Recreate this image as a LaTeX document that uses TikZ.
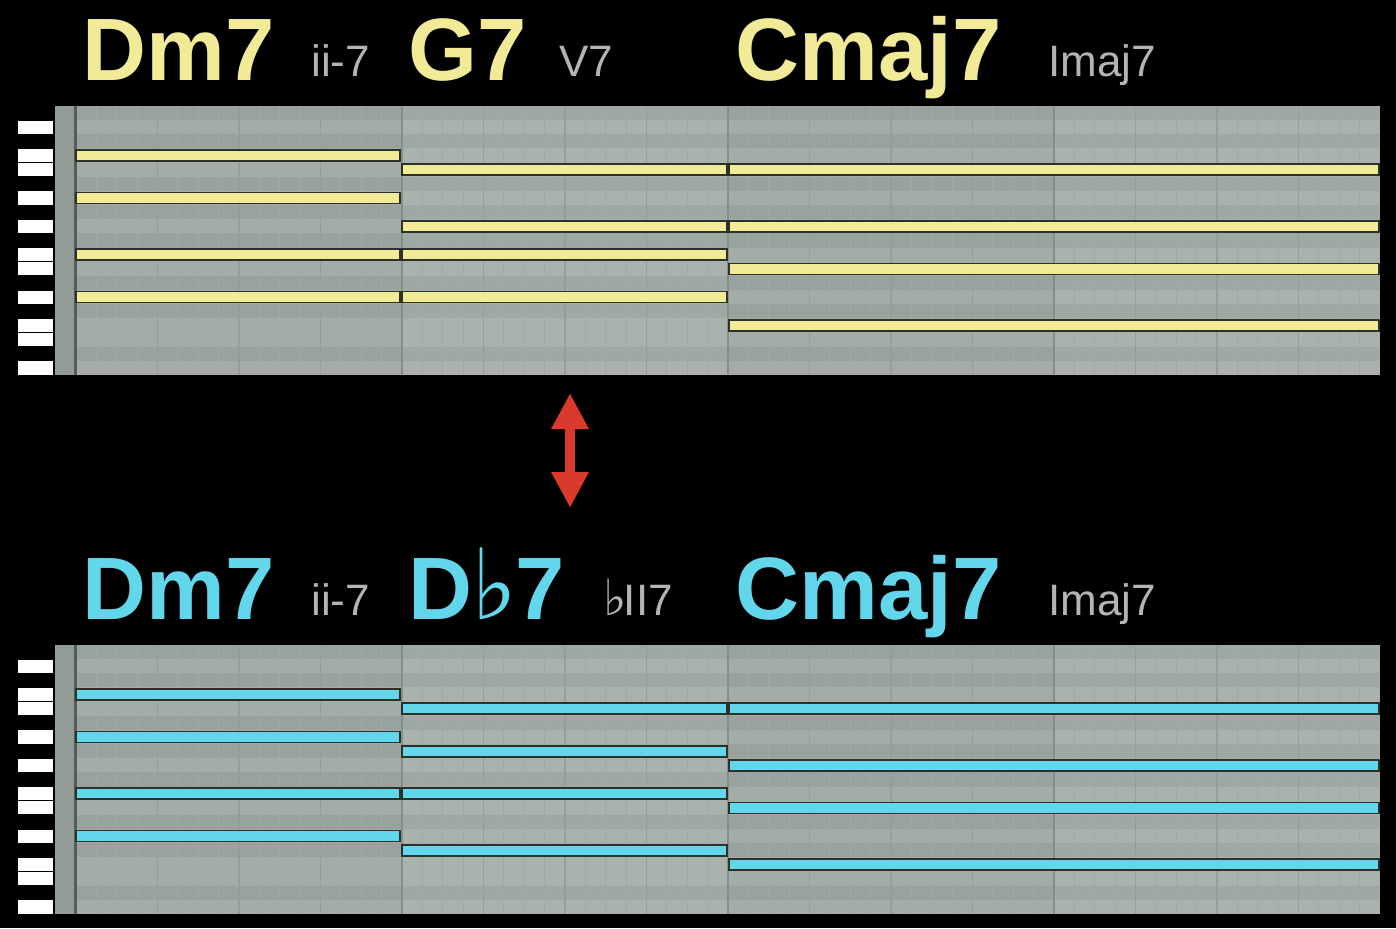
\documentclass[tikz,border=0pt]{standalone}
\usepackage{fontspec}
\setmainfont{Liberation Sans}
\newfontfamily\flatfont{DejaVu Sans}
\usetikzlibrary{arrows.meta}
\definecolor{rollGrid}{HTML}{AAB2AD}
\definecolor{rollBarDark}{HTML}{A4ACA7}
\definecolor{rollStrip}{HTML}{939B96}
\definecolor{rollLine}{HTML}{A0A9A4}
\definecolor{rollBeat}{HTML}{959E99}
\definecolor{rollBar}{HTML}{858E89}
\definecolor{rollEdge}{HTML}{555C58}
\definecolor{rollYellow}{HTML}{F1EB97}
\definecolor{rollCyan}{HTML}{62D6EA}
\definecolor{rollGray}{HTML}{B4B4B4}
\definecolor{rollRed}{HTML}{D93A2B}
\definecolor{rollOutline}{HTML}{2E3128}
\tikzset{
  roll chord/.style={anchor=base west, inner sep=0pt, font=\fontsize{44.3}{44.3}\selectfont\bfseries},
  roll degree/.style={anchor=base west, inner sep=0pt, font=\fontsize{22}{22}\selectfont, text=rollGray},
  roll note/.style={draw=rollOutline, line width=0.8pt},
  roll swap/.style={draw=rollRed, line width=5pt, {Triangle[length=18pt,width=17.5pt]}-{Triangle[length=18pt,width=17.5pt]}},
}

\begin{document}
\begin{tikzpicture}[x=0.5pt, y=-0.5pt]
  \fill[black] (0,0) rectangle (1396,928);
  \useasboundingbox (0,0) rectangle (1396,928);

  % Both piano rolls: grid, shading and keyboard
  \foreach \py in {106,645} {
    \fill[rollGrid] (76,\py) rectangle (1380,{\py+269});
    \fill[rollBarDark] (76,\py) rectangle (402,{\py+269});
    \fill[rollBarDark] (728,\py) rectangle (1054,{\py+269});
    \foreach \r in {0,2,5,7,9,12,14,17} {
      \fill[black, opacity=0.055] (55,{\py+\r*14.16}) rectangle (1380,{\py+(\r+1)*14.16});
    }
    \foreach \c in {1,...,63} {
      \draw[rollLine, line width=0.5pt] ({76+\c*20.375},\py) -- ++(0,269);
    }
    \foreach \c in {1,...,15} {
      \draw[rollBeat, line width=0.6pt] ({76+\c*81.5},\py) -- ++(0,269);
    }
    \foreach \c in {1,2,3} {
      \draw[rollBar, line width=0.7pt] ({76+\c*326},\py) -- ++(0,269);
    }
    \fill[rollStrip] (55,\py) rectangle (74,{\py+269});
    \fill[rollEdge] (74,\py) rectangle (77,{\py+269});
    \foreach \r in {1,3,4,6,8,10,11,13,15,16,18} {
      \fill[white] (18,{\py+\r*14.16+0.5}) rectangle (53,{\py+(\r+1)*14.16-0.5});
    }
  }

  % Top panel: ii-7  V7  Imaj7
  \node[roll chord, text=rollYellow] (dmTop) at (82,80) {Dm7};
  \node[roll degree] (iiTop) at (311,76) {ii-7};
  \node[roll chord, text=rollYellow] (gTop) at (408,80) {G7};
  \node[roll degree] (vTop) at (559,76) {V7};
  \node[roll chord, text=rollYellow] (cTop) at (735,80) {Cmaj7};
  \node[roll degree] (iTop) at (1048,76) {Imaj7};
  \foreach \xa/\xb/\r in {76/400/3, 76/400/6, 76/400/10, 76/400/13,
                          402/727/4, 402/727/8, 402/727/10, 402/727/13,
                          729/1379/4, 729/1379/8, 729/1379/11, 729/1379/15} {
    \draw[roll note, fill=rollYellow] (\xa,{106+(\r+0.5)*14.16-5.5}) rectangle (\xb,{106+(\r+0.5)*14.16+5.5});
  }

  % Tritone swap
  \coordinate (swapUp) at (570,393);
  \coordinate (swapDown) at (570,508);
  \draw[roll swap] (swapUp) -- (swapDown);

  % Bottom panel: ii-7  bII7  Imaj7
  \node[roll chord, text=rollCyan] (dmBot) at (82,619) {Dm7};
  \node[roll degree] (iiBot) at (311,615) {ii-7};
  \node[roll chord, text=rollCyan] (dbBot) at (408,619)
    {D\kern-0.5pt{\flatfont\mdseries\fontsize{49}{49}\selectfont ♭}\kern-1pt 7};
  \node[roll degree] (bIIBot) at (603,615)
    {{\flatfont\fontsize{25}{25}\selectfont ♭}\kern-1.5pt II7};
  \node[roll chord, text=rollCyan] (cBot) at (735,619) {Cmaj7};
  \node[roll degree] (iBot) at (1048,615) {Imaj7};
  \foreach \xa/\xb/\r in {76/400/3, 76/400/6, 76/400/10, 76/400/13,
                          402/727/4, 402/727/7, 402/727/10, 402/727/14,
                          729/1379/4, 729/1379/8, 729/1379/11, 729/1379/15} {
    \draw[roll note, fill=rollCyan] (\xa,{645+(\r+0.5)*14.16-5.5}) rectangle (\xb,{645+(\r+0.5)*14.16+5.5});
  }
\end{tikzpicture}
\end{document}
